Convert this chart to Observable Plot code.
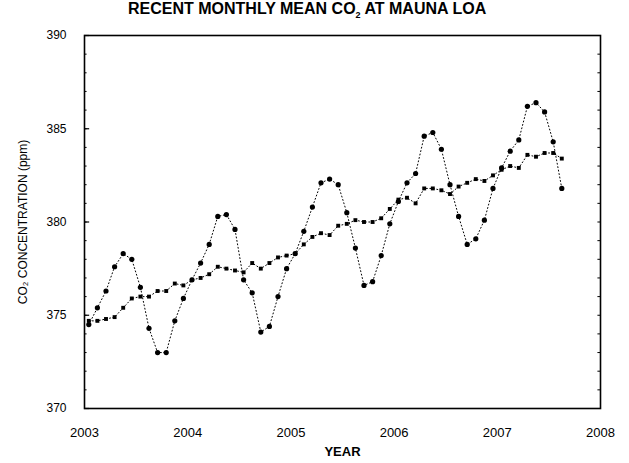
<!DOCTYPE html>
<html>
<head>
<meta charset="utf-8">
<script src="https://cdn.jsdelivr.net/npm/d3@7"></script>
<script src="https://cdn.jsdelivr.net/npm/@observablehq/plot@0.6"></script>
<style>
  html, body { margin: 0; padding: 0; background: #fff; }
  #title { width: 629px; height: 27px; line-height: 30px; font: bold 16px "Liberation Sans", Arial, sans-serif; color: #000; white-space: nowrap; }
  #title span { position: relative; left: 128px; }
</style>
</head>
<body>
<div id="title"><span>RECENT MONTHLY MEAN CO<sub style="font-size:9px">2</sub> AT MAUNA LOA</span></div>
<div id="chart"></div>
<script>
// Monthly values, January 2003 to August 2007
const startYear = 2003;
const monthlyMean = [
  374.5, 375.4, 376.3, 377.6, 378.3, 378.0, 376.5, 374.3, 373.0, 373.0, 374.7, 375.9,
  376.9, 377.8, 378.8, 380.3, 380.4, 379.6, 376.9, 376.2, 374.1, 374.4, 376.0, 377.5,
  378.3, 379.5, 380.8, 382.1, 382.3, 382.0, 380.5, 378.6, 376.6, 376.8, 378.2, 379.9,
  381.1, 382.1, 382.6, 384.6, 384.8, 383.9, 382.0, 380.3, 378.8, 379.1, 380.1, 381.8,
  382.9, 383.8, 384.4, 386.2, 386.4, 385.9, 384.3, 381.8
];
const trend = [
  374.7, 374.7, 374.8, 374.9, 375.4, 375.9, 376.0, 376.0, 376.3, 376.3, 376.7, 376.6,
  376.9, 377.0, 377.2, 377.6, 377.5, 377.4, 377.3, 377.8, 377.5, 377.8, 378.1, 378.2,
  378.3, 378.8, 379.2, 379.4, 379.3, 379.8, 379.9, 380.1, 380.0, 380.0, 380.2, 380.7,
  381.2, 381.3, 381.0, 381.8, 381.8, 381.7, 381.5, 381.9, 382.1, 382.3, 382.2, 382.5,
  382.8, 383.0, 382.9, 383.6, 383.5, 383.7, 383.7, 383.4
];
const xTicks = [2003, 2004, 2005, 2006, 2007, 2008];
const yTicks = [370, 375, 380, 385, 390];
const yMinorTicks = d3.range(370, 391, 1);

const monthly = monthlyMean.map((v, i) => ({t: startYear + (i + 0.5) / 12, v}));
const trendData = trend.map((v, i) => ({t: startYear + (i + 0.5) / 12, v}));

const font = '"Liberation Sans", Arial, sans-serif';

const chart = Plot.plot({
  width: 629,
  height: 436,
  marginTop: 8,
  marginBottom: 55,
  marginLeft: 84,
  marginRight: 29,
  style: {fontFamily: font, fontSize: "13px", color: "#000", background: "#fff"},
  x: {domain: [2003, 2008]},
  y: {domain: [370, 390]},
  marks: [
    Plot.frame({stroke: "#000", strokeWidth: 1.6}),
    Plot.axisX({ticks: xTicks, tickFormat: d => String(d), tickSize: 0, tickPadding: 19,
      label: "YEAR", labelAnchor: "center", labelArrow: "none", labelOffset: 47,
      fontSize: 13}),
    Plot.axisY({ticks: yTicks, tickFormat: d => String(d), tickSize: 0, tickPadding: 18,
      label: "CO₂ CONCENTRATION (ppm)", labelAnchor: "center", labelArrow: "none", labelOffset: 66,
      fontSize: 12}),
    Plot.ruleY(yMinorTicks, {y: d => d, x1: 2003, x2: 2003.025, stroke: "#000", strokeWidth: 1}),
    Plot.ruleY(yTicks, {y: d => d, x1: 2003, x2: 2003.05, stroke: "#000", strokeWidth: 1.2}),
    Plot.ruleY(yMinorTicks, {y: d => d, x1: 2007.975, x2: 2008, stroke: "#000", strokeWidth: 1}),
    Plot.line(monthly, {x: "t", y: "v", stroke: "#000", strokeWidth: 1, strokeDasharray: "1,2.5"}),
    Plot.line(trendData, {x: "t", y: "v", stroke: "#000", strokeWidth: 1, strokeDasharray: "1,2.5"}),
    Plot.dot(monthly, {x: "t", y: "v", r: 2.6, fill: "#000", stroke: null}),
    Plot.dot(trendData, {x: "t", y: "v", r: 2.2, symbol: "square", fill: "#000", stroke: null})
  ]
});
chart.querySelectorAll('[aria-label="x-axis label"] text, [aria-label="x-axis label"]').forEach(e => e.setAttribute("font-weight", "bold"));
document.getElementById("chart").appendChild(chart);
</script>
</body>
</html>
